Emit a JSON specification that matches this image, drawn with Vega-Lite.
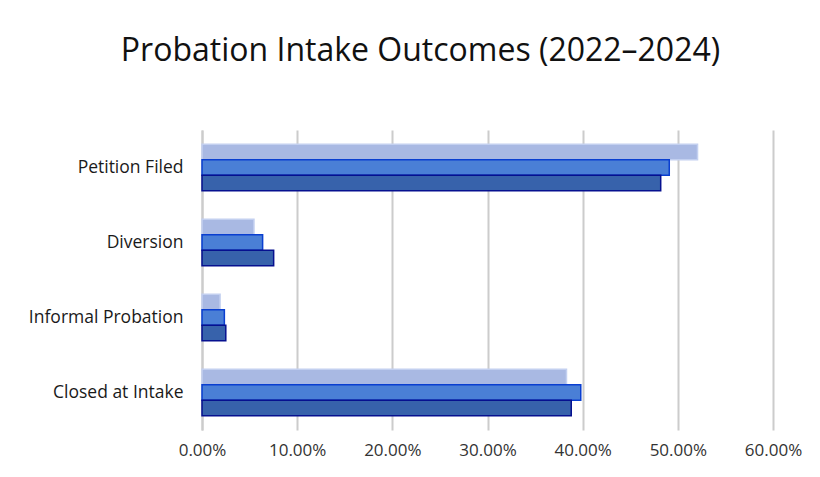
{
  "$schema": "https://vega.github.io/schema/vega-lite/v6.json",
  "width": 571,
  "height": 300,
  "autosize": {"type": "none"},
  "padding": {"left": 202, "top": 130, "right": 47, "bottom": 47},
  "background": "white",
  "title": {
    "text": "Probation Intake Outcomes (2022–2024)",
    "font": "Open Sans",
    "fontSize": 32,
    "fontWeight": "normal",
    "color": "#111111",
    "anchor": "middle",
    "dx": -67,
    "offset": 62
  },
  "data": {
    "values": [
      {"category": "Petition Filed", "year": "2024", "value": 0.5207},
      {"category": "Petition Filed", "year": "2023", "value": 0.491},
      {"category": "Petition Filed", "year": "2022", "value": 0.482},
      {"category": "Diversion", "year": "2024", "value": 0.0546},
      {"category": "Diversion", "year": "2023", "value": 0.0637},
      {"category": "Diversion", "year": "2022", "value": 0.0753},
      {"category": "Informal Probation", "year": "2024", "value": 0.019},
      {"category": "Informal Probation", "year": "2023", "value": 0.0235},
      {"category": "Informal Probation", "year": "2022", "value": 0.025},
      {"category": "Closed at Intake", "year": "2024", "value": 0.383},
      {"category": "Closed at Intake", "year": "2023", "value": 0.398},
      {"category": "Closed at Intake", "year": "2022", "value": 0.388}
    ]
  },
  "mark": {"type": "bar", "strokeWidth": 1.5},
  "encoding": {
    "y": {
      "field": "category",
      "type": "nominal",
      "sort": ["Petition Filed", "Diversion", "Informal Probation", "Closed at Intake"],
      "scale": {"paddingInner": 0.38, "paddingOuter": 0.19},
      "axis": {
        "title": null,
        "labelFont": "Open Sans",
        "labelFontSize": 17.5,
        "labelColor": "#1a1a1a",
        "labelPadding": 19,
        "ticks": false,
        "domainColor": "#cccccc",
        "domainWidth": 2
      }
    },
    "yOffset": {
      "field": "year",
      "type": "nominal",
      "sort": ["2024", "2023", "2022"],
      "scale": {"paddingInner": 0, "paddingOuter": 0}
    },
    "x": {
      "field": "value",
      "type": "quantitative",
      "scale": {"domain": [0, 0.6], "nice": false},
      "axis": {
        "title": null,
        "format": ".2%",
        "values": [0, 0.1, 0.2, 0.3, 0.4, 0.5, 0.6],
        "labelFont": "Open Sans",
        "labelFontSize": 17,
        "labelColor": "#333333",
        "labelPadding": 12,
        "labelFlush": false,
        "ticks": false,
        "domain": false,
        "grid": true,
        "gridColor": "#cccccc",
        "gridWidth": 2
      }
    },
    "color": {
      "field": "year",
      "type": "nominal",
      "scale": {"domain": ["2024", "2023", "2022"], "range": ["#a9b9e3", "#4a7fd6", "#3762ab"]},
      "legend": null
    },
    "stroke": {
      "field": "year",
      "type": "nominal",
      "scale": {"domain": ["2024", "2023", "2022"], "range": ["#c3d0f0", "#0a3fd0", "#06108f"]},
      "legend": null
    }
  },
  "config": {"view": {"stroke": null}}
}
